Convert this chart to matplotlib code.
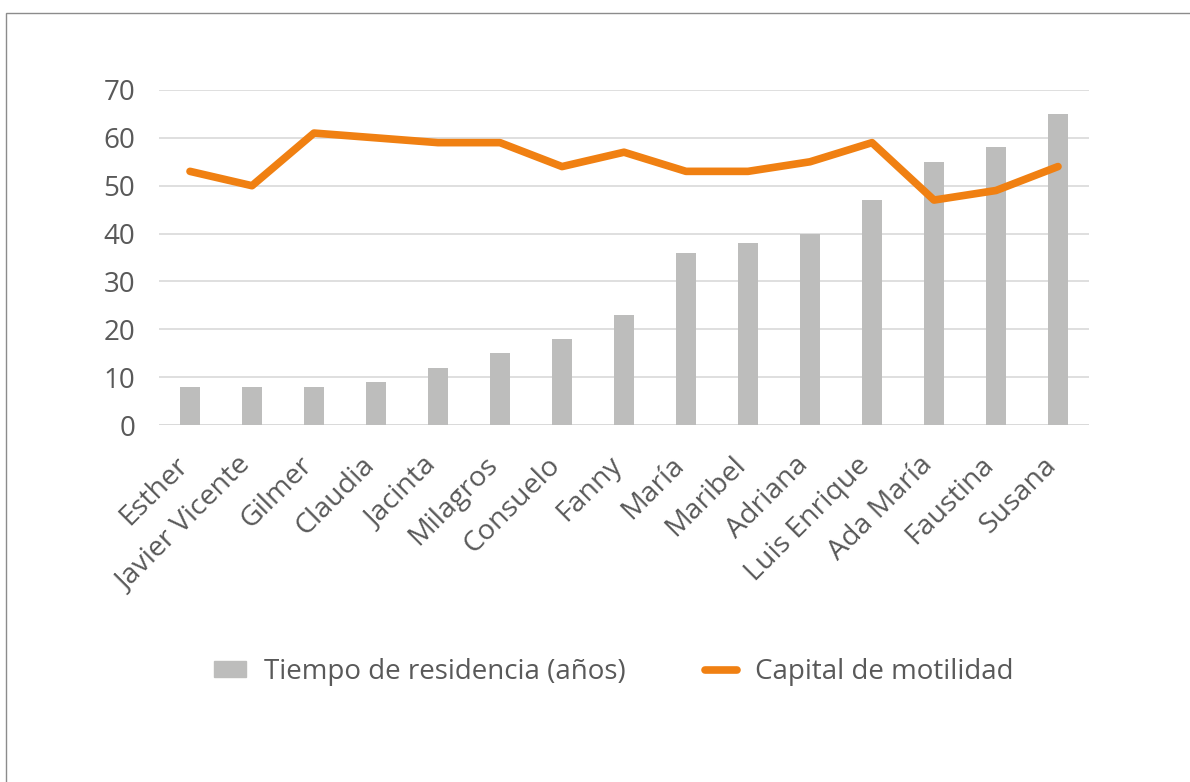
import matplotlib.pyplot as plt
import matplotlib.transforms as mtransforms
import numpy as np
from matplotlib.patches import Rectangle
from matplotlib.lines import Line2D

plt.rcParams['font.family'] = ['Open Sans', 'DejaVu Sans']

nombres = ["Esther", "Javier Vicente", "Gilmer", "Claudia", "Jacinta", "Milagros",
           "Consuelo", "Fanny", "María", "Maribel", "Adriana", "Luis Enrique",
           "Ada María", "Faustina", "Susana"]
residencia = [8, 8, 8, 9, 12, 15, 18, 23, 36, 38, 40, 47, 55, 58, 65]
motilidad = [53, 50, 61, 60, 59, 59, 54, 57, 53, 53, 55, 59, 47, 49, 54]

txt = "#595959"
fig = plt.figure(figsize=(11.9, 7.82), dpi=100)
ax = fig.add_axes([159 / 1190, 1 - 425 / 782, 930 / 1190, 335 / 782])

x = np.arange(len(nombres))
ax.bar(x, residencia, width=0.32, color="#BDBDBC", zorder=2,
       label="Tiempo de residencia (años)")
ax.plot(x, motilidad, color="#F08012", lw=5.5, solid_capstyle="round",
        solid_joinstyle="round", zorder=3, label="Capital de motilidad")

ax.set_xlim(-0.5, len(nombres) - 0.5)
ax.set_ylim(0, 70)
ax.set_yticks(range(0, 71, 10))
ax.grid(axis="y", color="#D9D9D9", lw=1.2, zorder=0)
for s in ax.spines.values():
    s.set_visible(False)
ax.axhline(0, color="#D9D9D9", lw=1.2, zorder=1)
ax.tick_params(length=0, colors=txt)
ax.tick_params(axis="y", labelsize=20, pad=17)
ax.tick_params(axis="x", labelsize=20.5, pad=26)
ax.set_xticks(x)
ax.set_xticklabels(nombres, rotation=45, ha="right", va="center",
                   rotation_mode="anchor")
shift = mtransforms.ScaledTranslation(-6 / 100, 0, fig.dpi_scale_trans)
for lab in ax.get_xticklabels():
    lab.set_transform(lab.get_transform() + shift)

h_bar = Rectangle((0, 0), 1, 1, color="#BDBDBC")
h_line = Line2D([], [], color="#F08012", lw=5.5, solid_capstyle="round")
fig.legend([h_bar, h_line], ["Tiempo de residencia (años)", "Capital de motilidad"],
           loc="center", bbox_to_anchor=(0.5155, 1 - 672 / 782), ncol=2, frameon=False,
           fontsize=20, labelcolor=txt, handlelength=1.15, handleheight=0.5,
           columnspacing=2.85, handletextpad=0.65)

fig.patches.append(Rectangle((6 / 1190, -0.1), 1.2, 1 - 13 / 782 + 0.1,
                             transform=fig.transFigure, fill=False,
                             edgecolor="#8C8C8C", lw=1))

fig.savefig("out.png", dpi=100)
